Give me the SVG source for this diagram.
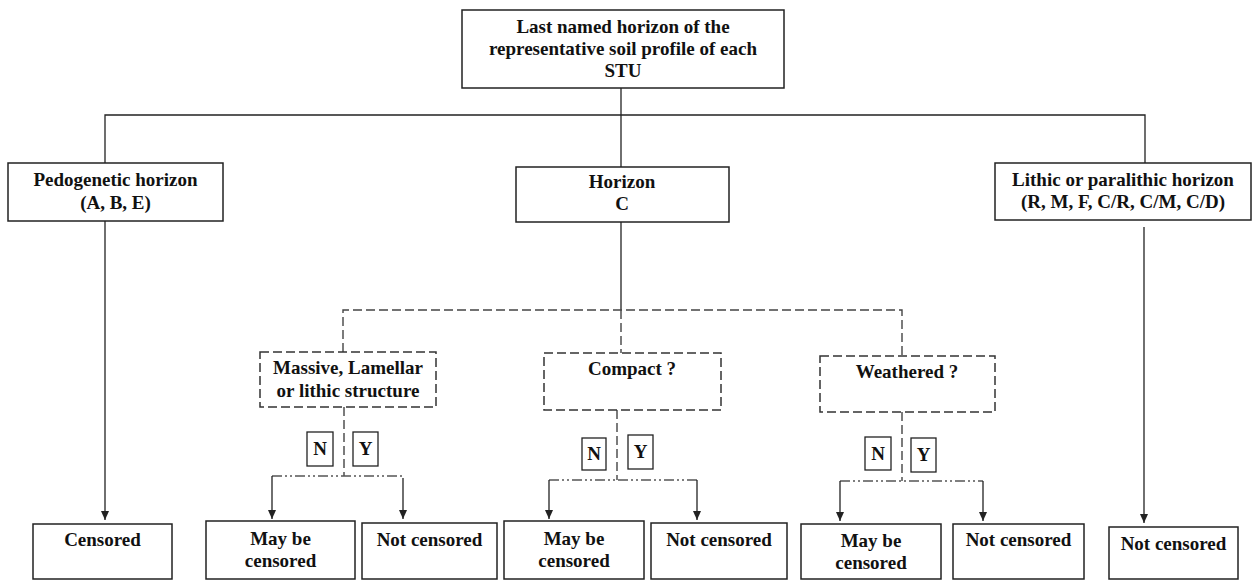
<svg xmlns="http://www.w3.org/2000/svg" width="1252" height="580" viewBox="0 0 1252 580">
<style>
  .box { fill: #ffffff; stroke: #222222; stroke-width: 1.5; }
  .dbox { fill: #ffffff; stroke: #333333; stroke-width: 1.5; stroke-dasharray: 9 4; }
  .lbl { fill: #ffffff; stroke: #222222; stroke-width: 1.3; }
  .t { font-family: "Liberation Serif", "DejaVu Serif", serif; font-weight: bold; font-size: 19px; fill: #111111; text-anchor: middle; }
  .solid { fill: none; stroke: #222222; stroke-width: 1.3; }
  .dash { fill: none; stroke: #444444; stroke-width: 1.4; stroke-dasharray: 9 4; }
  .dashdot { fill: none; stroke: #555555; stroke-width: 1.4; stroke-dasharray: 10 3 2 3 2 3; }
  .arrow { fill: none; stroke: #222222; stroke-width: 1.3; marker-end: url(#ah); }
</style>
<defs>
  <marker id="ah" markerUnits="userSpaceOnUse" markerWidth="9" markerHeight="8" refX="9" refY="4" orient="auto" viewBox="0 0 9 8">
    <path d="M0,0 L9,4 L0,8 Z" fill="#222222"/>
  </marker>
</defs>

<g id="connectors">
  <path class="solid" d="M621,88 V167"/>
  <path class="solid" d="M105,163 V115 H1145 V163"/>
  <path class="solid" d="M621,222 V310"/>
  <path class="dash" d="M621,310 V353"/>
  <path class="dash" d="M343,352 V310 H902 V356"/>
  <line class="arrow" x1="105" y1="221" x2="105" y2="520"/>
  <line class="arrow" x1="1144" y1="227" x2="1144" y2="523"/>
  <path class="dash" d="M344,407 V476"/>
  <path class="dashdot" d="M272,476 H403"/>
  <line class="arrow" x1="272" y1="476" x2="272" y2="519"/>
  <line class="arrow" x1="403" y1="478" x2="403" y2="519"/>
  <path class="dash" d="M617,410 V480"/>
  <path class="dashdot" d="M549,480 H697"/>
  <line class="arrow" x1="549" y1="480" x2="549" y2="519"/>
  <line class="arrow" x1="697" y1="480" x2="697" y2="520"/>
  <path class="dash" d="M902,412 V481"/>
  <path class="dashdot" d="M840,481 H983"/>
  <line class="arrow" x1="840" y1="481" x2="840" y2="521"/>
  <line class="arrow" x1="983" y1="481" x2="983" y2="521"/>
</g>

<g id="labels">
  <rect class="lbl" x="307" y="432" width="26" height="34"/>
  <text class="t" x="320" y="455">N</text>
  <rect class="lbl" x="353" y="432" width="25" height="34"/>
  <text class="t" x="365.5" y="455">Y</text>
  <rect class="lbl" x="582" y="438" width="24" height="32"/>
  <text class="t" x="594" y="460">N</text>
  <rect class="lbl" x="628" y="435" width="25" height="34"/>
  <text class="t" x="640.5" y="458">Y</text>
  <rect class="lbl" x="865" y="437" width="26" height="33"/>
  <text class="t" x="878" y="460">N</text>
  <rect class="lbl" x="911" y="438" width="25" height="34"/>
  <text class="t" x="923.5" y="461">Y</text>
</g>

<g id="n_top">
  <rect class="box" x="462" y="10" width="322" height="78"/>
  <text class="t" x="623" y="33">Last named horizon of the</text>
  <text class="t" x="623" y="55">representative soil profile of each</text>
  <text class="t" x="623" y="77">STU</text>
</g>
<g id="n_pedo">
  <rect class="box" x="8" y="163" width="215" height="58"/>
  <text class="t" x="115.5" y="186">Pedogenetic horizon</text>
  <text class="t" x="115.5" y="209">(A, B, E)</text>
</g>
<g id="n_hc">
  <rect class="box" x="516" y="167" width="213" height="55"/>
  <text class="t" x="622" y="188">Horizon</text>
  <text class="t" x="622" y="210">C</text>
</g>
<g id="n_lithic">
  <rect class="box" x="995" y="163" width="256" height="57"/>
  <text class="t" x="1123" y="186">Lithic or paralithic horizon</text>
  <text class="t" x="1123" y="208">(R, M, F, C/R, C/M, C/D)</text>
</g>
<g id="n_massive">
  <rect class="dbox" x="260" y="352" width="176" height="55"/>
  <text class="t" x="348" y="374">Massive, Lamellar</text>
  <text class="t" x="348" y="397">or lithic structure</text>
</g>
<g id="n_compact">
  <rect class="dbox" x="544" y="353" width="177" height="57"/>
  <text class="t" x="632" y="375">Compact ?</text>
</g>
<g id="n_weathered">
  <rect class="dbox" x="820" y="356" width="175" height="56"/>
  <text class="t" x="907" y="378">Weathered ?</text>
</g>
<g id="n_censored">
  <rect class="box" x="33" y="524" width="139" height="55"/>
  <text class="t" x="102.5" y="546">Censored</text>
</g>
<g id="n_may1">
  <rect class="box" x="206" y="521" width="149" height="58"/>
  <text class="t" x="280.5" y="545">May be</text>
  <text class="t" x="280.5" y="567">censored</text>
</g>
<g id="n_not1">
  <rect class="box" x="362" y="523" width="135" height="56"/>
  <text class="t" x="429.5" y="546">Not censored</text>
</g>
<g id="n_may2">
  <rect class="box" x="504" y="521" width="140" height="58"/>
  <text class="t" x="574" y="545">May be</text>
  <text class="t" x="574" y="567">censored</text>
</g>
<g id="n_not2">
  <rect class="box" x="651" y="523" width="136" height="56"/>
  <text class="t" x="719" y="546">Not censored</text>
</g>
<g id="n_may3">
  <rect class="box" x="801" y="524" width="140" height="55"/>
  <text class="t" x="871" y="547">May be</text>
  <text class="t" x="871" y="569">censored</text>
</g>
<g id="n_not3">
  <rect class="box" x="953" y="524" width="131" height="55"/>
  <text class="t" x="1018.5" y="546">Not censored</text>
</g>
<g id="n_not4">
  <rect class="box" x="1109" y="527" width="129" height="52"/>
  <text class="t" x="1173.5" y="550">Not censored</text>
</g>
</svg>
